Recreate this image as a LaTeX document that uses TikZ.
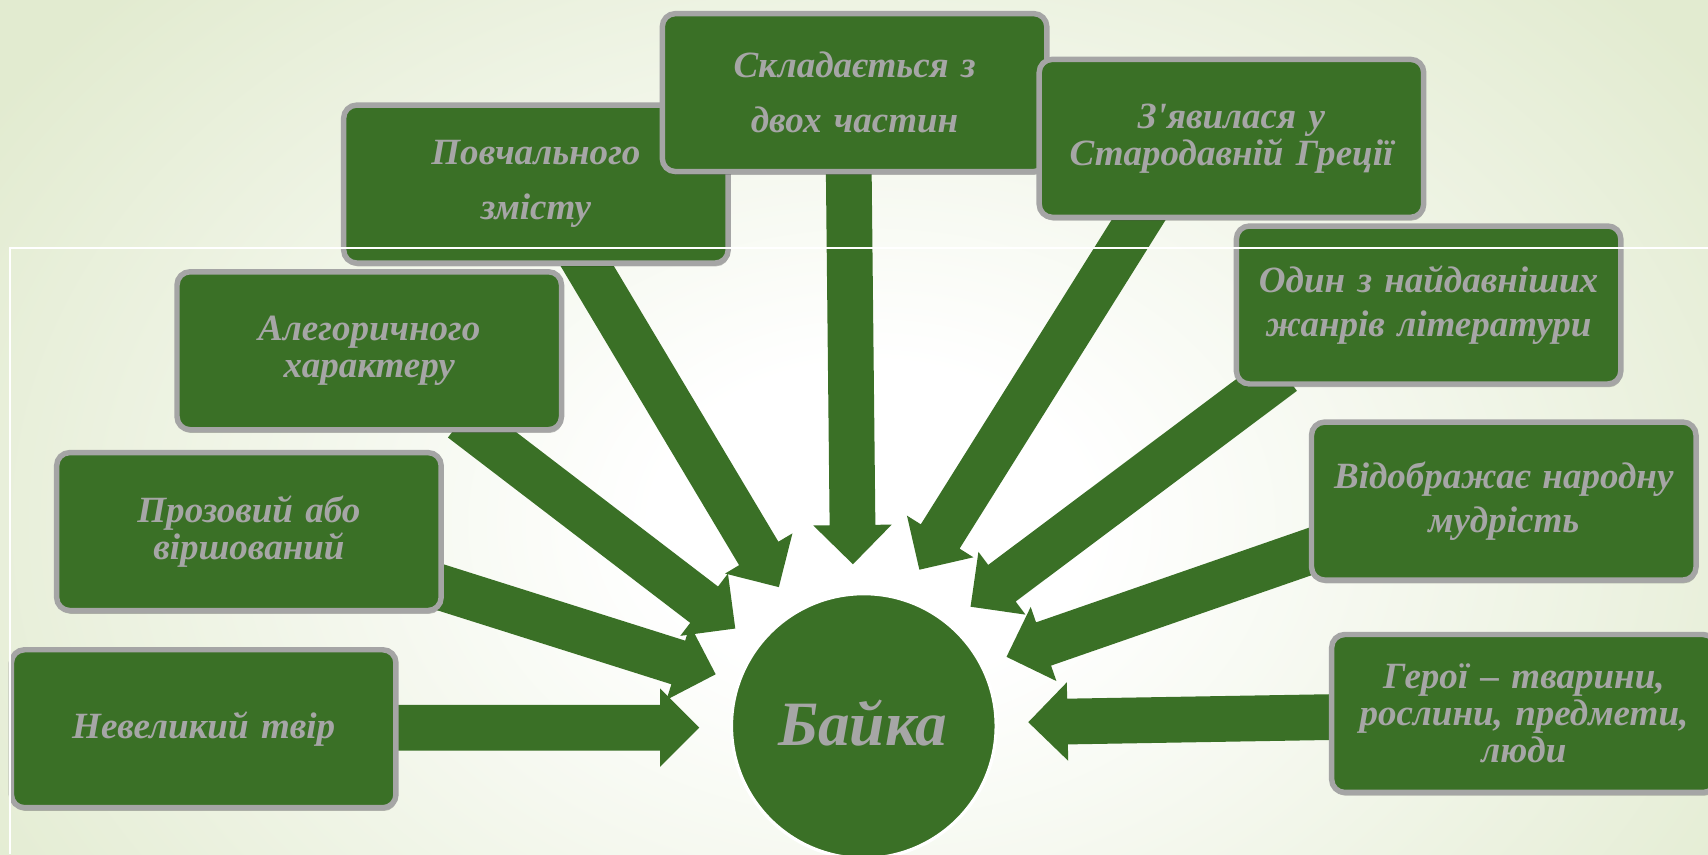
\documentclass[tikz,border=0pt]{standalone}
\usepackage{fontspec}
\setmainfont{Liberation Serif}
\usetikzlibrary{calc,shadows}
\definecolor{bgG}{RGB}{226,235,208}
\definecolor{leaf}{RGB}{58,112,38}
\definecolor{greyb}{RGB}{165,165,165}
\definecolor{greyt}{RGB}{166,166,166}
\pgfdeclareradialshading{bgsh}{\pgfpoint{0bp}{0bp}}{color(0bp)=(white); color(5bp)=(white); color(24bp)=(bgG); color(50bp)=(bgG)}
\pgfdeclarelayer{bglayer}
\pgfdeclarelayer{arrowlayer}
\pgfdeclarelayer{toplayer}
\pgfsetlayers{bglayer,arrowlayer,main,toplayer}
\tikzset{
  box/.style={rounded corners=12pt, fill=leaf, draw=greyb, line width=5pt,
    minimum width=353pt, minimum height=145pt, text width=350pt, align=center,
    text=greyt, inner sep=0pt,
    font=\bfseries\itshape\fontsize{34}{#1}\selectfont,
    drop shadow={shadow xshift=1pt, shadow yshift=-3pt, fill=black, opacity=.25}},
  box/.default=34,
  hub/.style={circle, fill=leaf, draw=white, line width=3pt, minimum size=243pt, inner sep=0pt},
  hubtext/.style={text=greyt, font=\bfseries\itshape\fontsize{58}{60}\selectfont, inner sep=0pt},
  blockfill/.style={fill=leaf},
  frameline/.style={draw=white, line width=2pt}
}
\newcommand\blockarr[3]{%
  \coordinate (h#3) at ($(#2)!36pt!(#1)$);
  \path[blockfill] ($(#1)!21pt!90:(#2)$) -- ($(h#3)!21pt!90:(#2)$) -- ($(h#3)!36pt!90:(#2)$) -- (#2)
    -- ($(h#3)!36pt!-90:(#2)$) -- ($(h#3)!21pt!-90:(#2)$) -- ($(#1)!21pt!-90:(#2)$) -- cycle;
}
\begin{document}
\begin{tikzpicture}[x=1pt,y=-1pt]
\useasboundingbox (0,0) rectangle (1568,784);
\clip (0,0) rectangle (1568,784);
\begin{pgfonlayer}{bglayer}
  \fill[bgG] (0,0) rectangle (1568,784);
  \shade[shading=bgsh] (-200,-250) rectangle (1800,1210);
\end{pgfonlayer}

% boxes
\node[box] (b1) at (187,669) {Невеликий твір};
\node[box] (b2) at (228.5,488) {Прозовий або\\віршований};
\node[box] (b3) at (339,322) {Алегоричного\\характеру};
\node[box=50] (b4) at (492,169) {Повчального\\змісту};
\node[box=50] (b5) at (784.5,85) {Складається з\\двох частин};
\node[box] (b6) at (1130.5,127) {З\textquotesingle явилася у\\Стародавній Греції};
\node[box=40] (b7) at (1311.5,280) {Один з найдавніших\\жанрів літератури};
\node[box=40] (b8) at (1380.5,460) {Відображає народну\\мудрість};
\node[box] (b9) at (1399,655) {Герої – тварини,\\рослини, предмети,\\люди};

% hub
\node[hub] (c) at (793,666.5) {};
\node[hubtext, anchor=base] (ct) at (792,684) {Байка};

% arrow ends
\coordinate (s1) at (340,668);   \coordinate (t1) at (642,668);
\coordinate (s2) at (388,534);   \coordinate (t2) at (657,619);
\coordinate (s3) at (424,385);   \coordinate (t3) at (675,577);
\coordinate (s4) at (530,229);   \coordinate (t4) at (715,539);
\coordinate (s5) at (779,140);   \coordinate (t5) at (783,518);
\coordinate (s6) at (1054,188);  \coordinate (t6) at (844,523);
\coordinate (s7) at (1178,342);  \coordinate (t7) at (891,557);
\coordinate (s8) at (1218,501);  \coordinate (t8) at (924,603);
\coordinate (s9) at (1240,658);  \coordinate (t9) at (944,663);

\begin{pgfonlayer}{arrowlayer}
  \blockarr{s1}{t1}{1}
  \blockarr{s2}{t2}{2}
  \blockarr{s3}{t3}{3}
  \blockarr{s4}{t4}{4}
  \blockarr{s5}{t5}{5}
  \blockarr{s6}{t6}{6}
  \blockarr{s7}{t7}{7}
  \blockarr{s8}{t8}{8}
  \blockarr{s9}{t9}{9}
\end{pgfonlayer}

\begin{pgfonlayer}{toplayer}
  \coordinate (f1) at (1568,228);
  \coordinate (f2) at (9,228);
  \coordinate (f3) at (9,784);
  \draw[frameline] (f1) -- (f2) -- (f3);
\end{pgfonlayer}
\end{tikzpicture}
\end{document}
